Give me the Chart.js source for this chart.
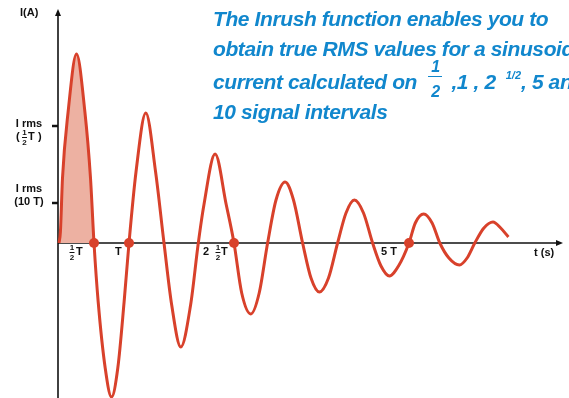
<!DOCTYPE html>
<html>
<head>
<meta charset="utf-8">
<script src="https://cdn.jsdelivr.net/npm/chart.js@4/dist/chart.umd.min.js"></script>
<style>
  html, body { margin: 0; padding: 0; background: #fff; }
  #wrap { position: relative; width: 569px; height: 398px; overflow: hidden; }
  #chart { position: absolute; left: 0; top: 0; }
  .note {
    position: absolute; left: 213px; white-space: nowrap;
    font: italic bold 21px "Liberation Sans", Arial, sans-serif;
    letter-spacing: -0.4px; line-height: 21px; color: #1187cd;
  }
  .frac { display: inline-block; position: relative; width: 14px; height: 1px; margin: 0 9px 0 6px; font-size: 16px; line-height: 0; }
  .frac span { position: absolute; left: 0; width: 14px; text-align: center; line-height: 16px; }
  .frac .num { top: -29px; }
  .frac .den { top: -4px; }
  .frac .bar { top: -12px; height: 0; border-top: 1.5px solid #1187cd; }
  .sup { font-size: 11px; line-height: 0; vertical-align: 10px; letter-spacing: 0; margin-left: 10px; }
</style>
</head>
<body>
<div id="wrap">
  <canvas id="chart" width="569" height="398"></canvas>
  <div class="note" style="top:8px">The Inrush function enables you to</div>
  <div class="note" style="top:38px">obtain true RMS values for a sinusoidal</div>
  <div class="note" style="top:71px">current calculated on <span class="frac"><span class="num">1</span><span class="bar"></span><span class="den">2</span></span>,1 , 2<span class="sup">1/2</span>, 5 and</div>
  <div class="note" style="top:101px">10 signal intervals</div>
</div>
<script>
// current curve, time in periods T, current in arbitrary units
const curveT = [0, 0.02, 0.05, 0.13, 0.25, 0.37, 0.45, 0.5, 0.56, 0.66, 0.75, 0.84, 0.93, 1.0,
  1.1, 1.24, 1.38, 1.5, 1.61, 1.74, 1.88, 1.99, 2.07, 2.23, 2.39, 2.5, 2.61, 2.74, 2.86, 2.98,
  3.1, 3.23, 3.35, 3.48, 3.6, 3.72, 3.85, 3.98, 4.1, 4.22, 4.35, 4.48, 4.6, 4.72, 4.85, 5.0,
  5.09, 5.21, 5.33, 5.44, 5.57, 5.72, 5.83, 5.94, 6.07, 6.2, 6.31, 6.42];
const curveI = [0, 11, 65, 131, 189, 131, 65, 0, -59, -125, -154, -125, -59, 0,
  71, 130, 71, 0, -62, -104, -62, 0, 38, 89, 38, 0, -50, -71, -50, 0,
  43, 61, 43, 0, -35, -49, -35, 0, 30, 43, 30, 0, -23, -33, -23, 0,
  20, 29, 20, 0, -15, -22, -15, 0, 15, 21, 15, 6];

// first half wave (shaded)
const halfWaveCount = 8;

// marked intervals on the time axis
const markT = [0.5, 1, 2.5, 5];

// rms levels on the current axis
const rmsValues = [117, 40];

const red = '#d8412b';
const black = '#111';

const points = curveT.map((t, i) => ({ x: t, y: curveI[i] }));

const axesPlugin = {
  id: 'axesPlugin',
  beforeDatasetsDraw(chart) {
    const { ctx, chartArea, scales: { x, y } } = chart;
    const y0 = y.getPixelForValue(0);
    ctx.save();
    ctx.strokeStyle = black;
    ctx.fillStyle = black;
    ctx.lineWidth = 1.6;
    // y axis
    ctx.beginPath();
    ctx.moveTo(chartArea.left, chartArea.bottom);
    ctx.lineTo(chartArea.left, chartArea.top + 4);
    ctx.stroke();
    ctx.beginPath();
    ctx.moveTo(chartArea.left, chartArea.top - 1);
    ctx.lineTo(chartArea.left - 3, chartArea.top + 6);
    ctx.lineTo(chartArea.left + 3, chartArea.top + 6);
    ctx.closePath();
    ctx.fill();
    // x axis
    ctx.beginPath();
    ctx.moveTo(chartArea.left, y0);
    ctx.lineTo(chartArea.right - 4, y0);
    ctx.stroke();
    ctx.beginPath();
    ctx.moveTo(chartArea.right, y0);
    ctx.lineTo(chartArea.right - 7, y0 - 3);
    ctx.lineTo(chartArea.right - 7, y0 + 3);
    ctx.closePath();
    ctx.fill();
    // rms ticks
    ctx.lineWidth = 2.5;
    rmsValues.forEach(v => {
      const py = y.getPixelForValue(v);
      ctx.beginPath();
      ctx.moveTo(chartArea.left - 6, py);
      ctx.lineTo(chartArea.left, py);
      ctx.stroke();
    });
    ctx.restore();
  },
  afterDraw(chart) {
    const { ctx, chartArea, scales: { x, y } } = chart;
    const y0 = y.getPixelForValue(0);
    const font = 'bold 11px "Liberation Sans", Arial, sans-serif';
    const small = 'bold 8px "Liberation Sans", Arial, sans-serif';
    ctx.save();
    ctx.fillStyle = black;
    ctx.textBaseline = 'middle';

    function frac(cx, cy) {
      ctx.font = small;
      ctx.textAlign = 'center';
      ctx.fillText('1', cx, cy - 4.5);
      ctx.fillText('2', cx, cy + 5.5);
      ctx.fillRect(cx - 2.5, cy, 5, 1);
      ctx.font = font;
    }
    function text(s, px, py, align) {
      ctx.font = font;
      ctx.textAlign = align || 'left';
      ctx.fillText(s, px, py);
    }

    text('I(A)', 20, 13);
    text('t (s)', 534, y0 + 10);

    // time axis labels, placed left of their markers
    const tx = markT.map(t => x.getPixelForValue(t));
    const ly = y0 + 9;
    frac(tx[0] - 22, ly);
    text('T', tx[0] - 18, ly);
    text('T', tx[1] - 14, ly);
    text('2', tx[2] - 31, ly);
    frac(tx[2] - 16, ly);
    text('T', tx[2] - 13, ly);
    text('5 T', tx[3] - 28, ly);

    // current axis labels
    const r1 = y.getPixelForValue(rmsValues[0]);
    const r2 = y.getPixelForValue(rmsValues[1]);
    text('I rms', 29, r1 - 2, 'center');
    text('(', 16, r1 + 11);
    frac(24.5, r1 + 11);
    text('T', 28, r1 + 11);
    text(')', 38, r1 + 11);
    text('I rms', 29, r2 - 14, 'center');
    text('(10 T)', 29, r2 - 1, 'center');
    ctx.restore();
  }
};

new Chart(document.getElementById('chart'), {
  type: 'line',
  data: {
    datasets: [
      {
        label: 'current',
        data: points,
        borderColor: red,
        borderWidth: 3,
        pointRadius: 0,
        cubicInterpolationMode: 'monotone',
        fill: false,
        clip: false,
        order: 1
      },
      {
        label: 'half wave',
        data: points.slice(0, halfWaveCount),
        borderWidth: 0,
        borderColor: 'rgba(0,0,0,0)',
        backgroundColor: '#edb1a2',
        pointRadius: 0,
        cubicInterpolationMode: 'monotone',
        fill: 'origin',
        clip: false,
        order: 2
      },
      {
        type: 'scatter',
        label: 'intervals',
        data: markT.map(t => ({ x: t, y: 0 })),
        pointRadius: 5,
        pointBackgroundColor: red,
        pointBorderWidth: 0,
        clip: false,
        order: 0
      }
    ]
  },
  options: {
    responsive: false,
    animation: false,
    layout: { autoPadding: false, padding: { left: 58, right: 6, top: 10, bottom: 0 } },
    plugins: { legend: { display: false }, tooltip: { enabled: false } },
    scales: {
      x: { type: 'linear', min: -1 / 70, max: 7.2, display: false },
      y: { type: 'linear', min: -155, max: 233, display: false }
    }
  },
  plugins: [axesPlugin]
});
</script>
</body>
</html>
